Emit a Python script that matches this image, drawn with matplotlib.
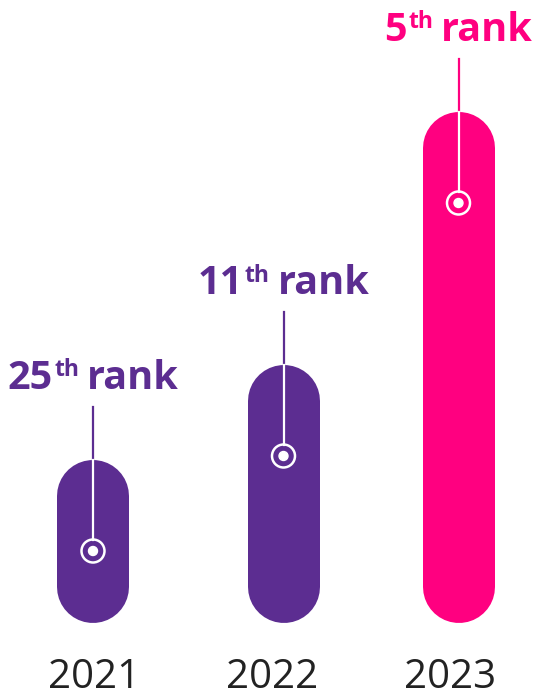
import matplotlib.pyplot as plt

years = ["2021", "2022", "2023"]
ranks = [25, 11, 5]
bar_heights = [163, 258, 511]   # in pixels
colors = ["#5C2D91", "#5C2D91", "#FF0080"]

x_pos = [93, 283.5, 458.5]
year_x = [94, 272, 450]
base = 76          # bottom of the bars (y up, pixels)
bar_w = 72         # pill width in pixels
dpi = 100

fig = plt.figure(figsize=(5.34, 6.99), dpi=dpi)
ax = fig.add_axes([0, 0, 1, 1])
ax.set_xlim(0, 534)
ax.set_ylim(0, 699)
ax.axis("off")

lw = bar_w * 72 / dpi
renderer = fig.canvas.get_renderer()


def suffix(n):
    if n in (11, 12, 13):
        return "th"
    return {1: "st", 2: "nd", 3: "rd"}.get(n % 10, "th")


for x, h, r, c in zip(x_pos, bar_heights, ranks, colors):
    top = base + h
    # pill shaped bar
    ax.plot([x, x], [base + bar_w / 2, top - bar_w / 2], color=c, lw=lw,
            solid_capstyle="round", zorder=2)
    # marker inside the bar
    cy = top - 91
    ax.plot([x, x], [top + 53, top], color=c, lw=1.6, zorder=3)
    ax.plot([x, x], [top, cy + 11.5], color="white", lw=1.6, zorder=3)
    ax.add_patch(plt.Circle((x, cy), 11.5, fill=False, ec="white", lw=1.8, zorder=3))
    ax.add_patch(plt.Circle((x, cy), 4.5, color="white", zorder=3))

    # label "25th rank"
    yb = top + 71
    t1 = ax.text(0, yb, str(r), fontsize=28.5, fontweight="bold", family="Open Sans",
                 color=c, va="baseline", ha="left")
    t2 = ax.text(0, yb + 12.5, suffix(r), fontsize=16.5, fontweight="bold", family="Open Sans",
                 color=c, va="baseline", ha="left")
    t3 = ax.text(0, yb, "rank", fontsize=28.5, fontweight="bold", family="Open Sans",
                 color=c, va="baseline", ha="left")
    w1 = t1.get_window_extent(renderer).width
    w2 = t2.get_window_extent(renderer).width
    w3 = t3.get_window_extent(renderer).width
    gap1, gap2 = 2, 8
    total = w1 + gap1 + w2 + gap2 + w3
    x0 = x - total / 2
    t1.set_x(x0)
    t2.set_x(x0 + w1 + gap1)
    t3.set_x(x0 + w1 + gap1 + w2 + gap2)

for xy, yr in zip(year_x, years):
    ax.text(xy, 21, yr, fontsize=29, family="Open Sans", color="#222222",
            ha="center", va="center")

fig.savefig("out.png", dpi=dpi)
